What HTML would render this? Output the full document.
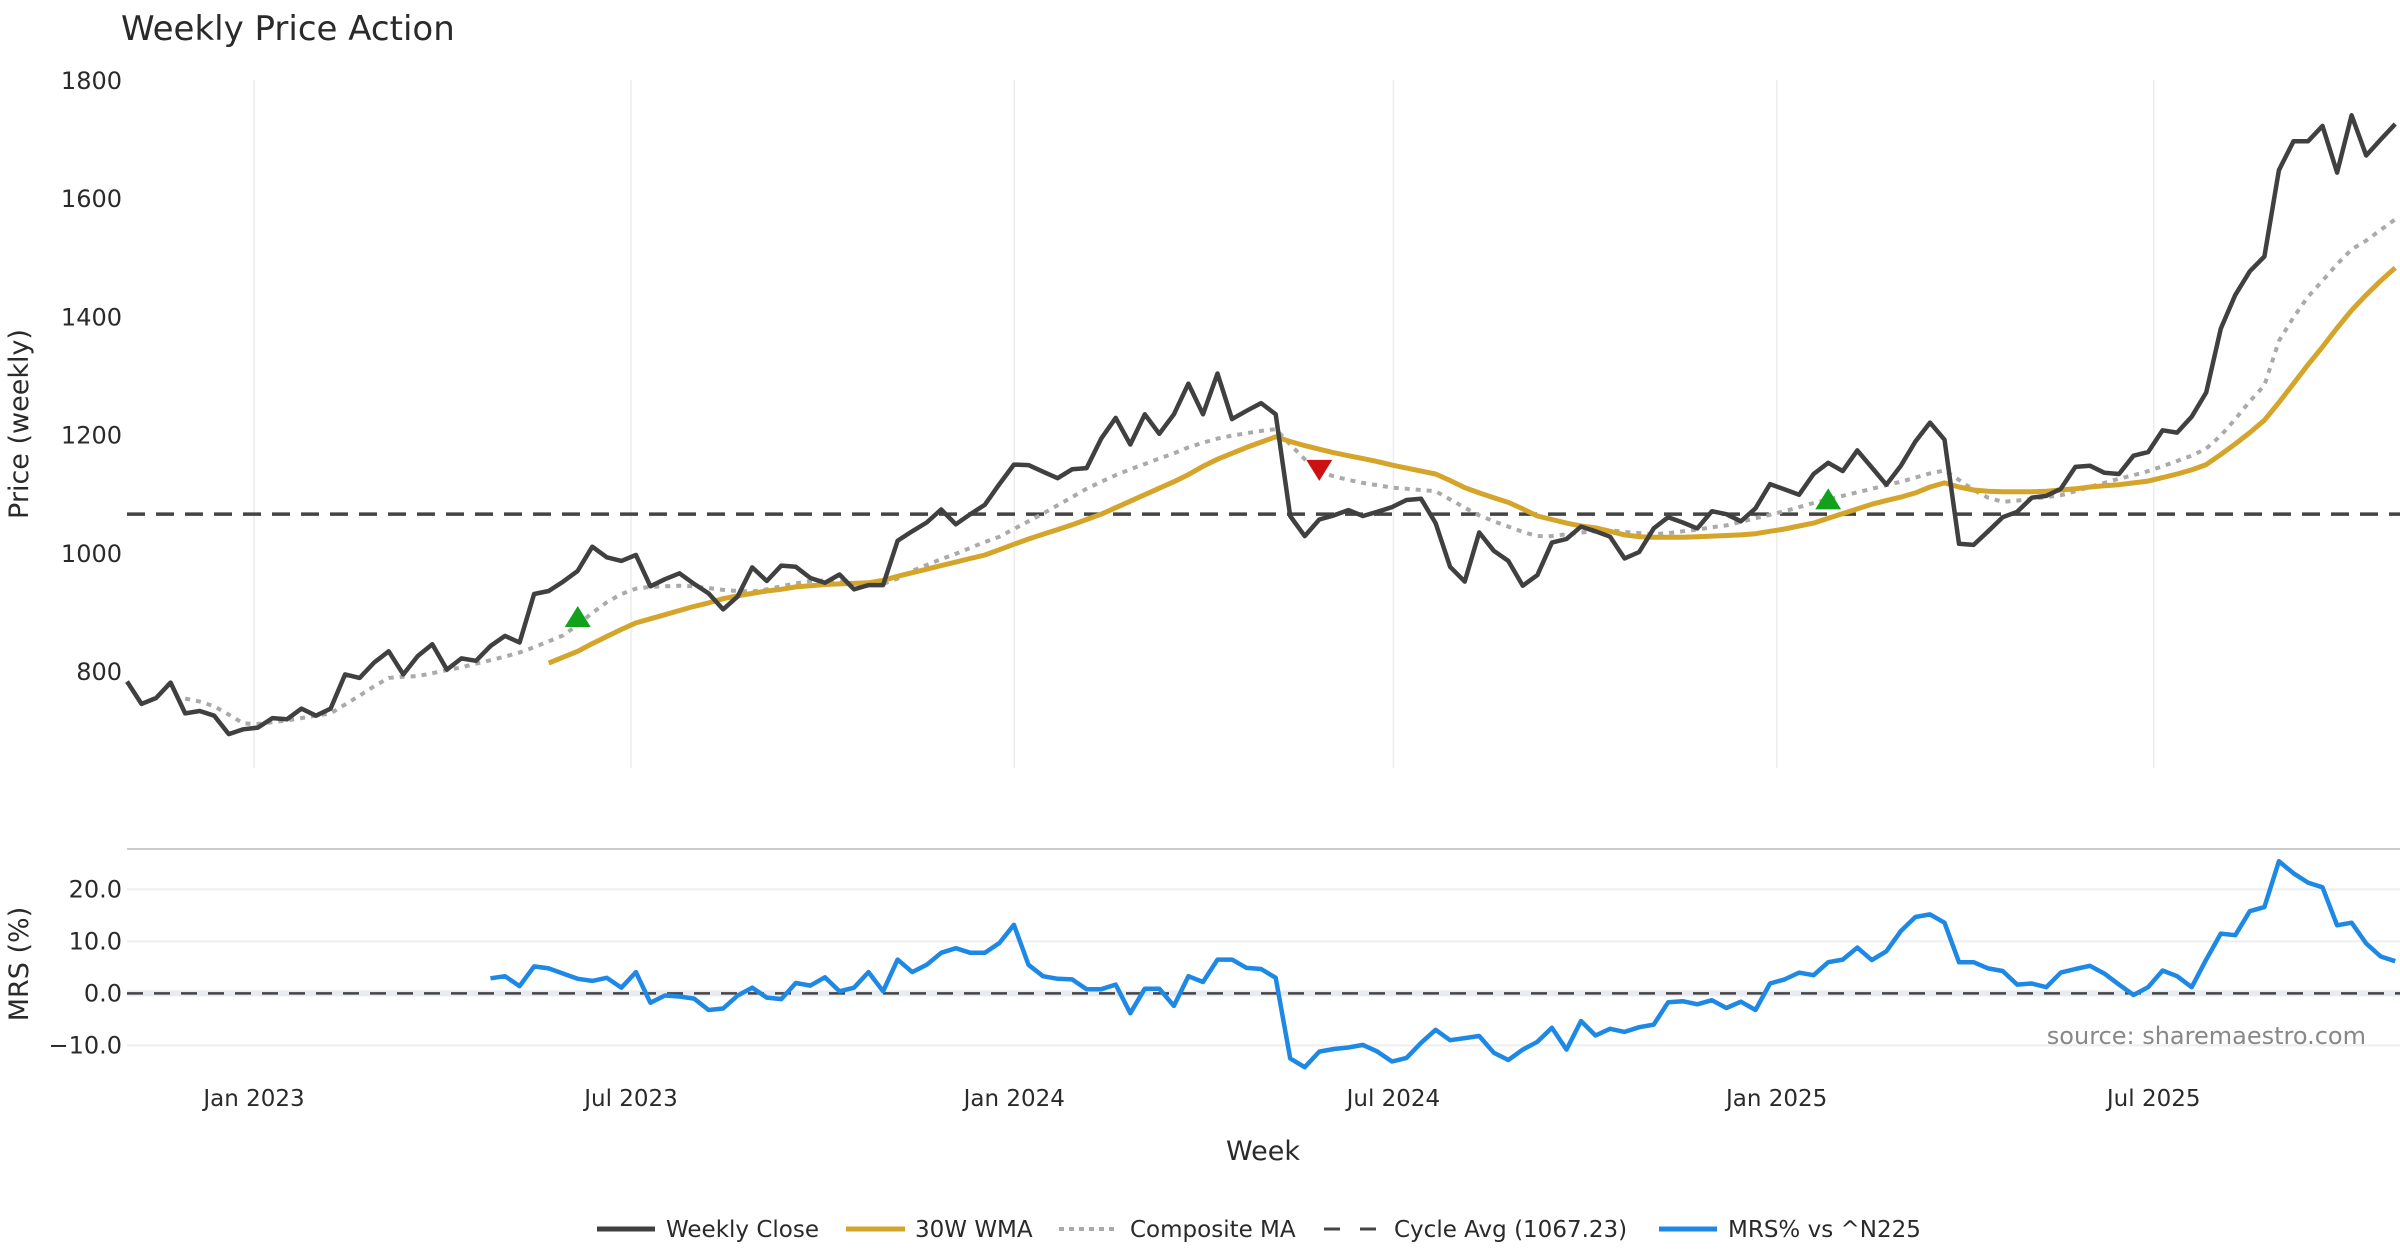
<!DOCTYPE html>
<html><head><meta charset="utf-8"><style>
html,body{margin:0;padding:0;background:#fff;}
svg{display:block;font-family:"DejaVu Sans","Liberation Sans",sans-serif;}
</style></head><body>
<svg id="chart" width="2400" height="1260" viewBox="0 0 2400 1260" xmlns="http://www.w3.org/2000/svg">
<text x="121" y="40" font-size="34" fill="#2a2a2a">Weekly Price Action</text>
<g id="grid"></g>
<g id="mrsgrid"></g>
<line x1="127" y1="849" x2="2400" y2="849" stroke="#cccccc" stroke-width="2"/>
<g id="series"></g>
<g id="axes"></g>
<text transform="translate(28,424) rotate(-90)" text-anchor="middle" font-size="27" fill="#2a2a2a">Price (weekly)</text>
<text transform="translate(28,964) rotate(-90)" text-anchor="middle" font-size="27" fill="#2a2a2a">MRS (%)</text>
<text x="1263" y="1160" text-anchor="middle" font-size="27" fill="#2a2a2a">Week</text>
<text x="2366" y="1044" text-anchor="end" font-size="24" fill="#888888">source: sharemaestro.com</text>
<g id="legend" font-size="23" fill="#2a2a2a">
 <g><line x1="597" y1="1229" x2="655" y2="1229" stroke="#404040" stroke-width="5"/><text x="666" y="1237">Weekly Close</text></g>
 <g><line x1="846" y1="1229" x2="905" y2="1229" stroke="#d4a52a" stroke-width="5"/><text x="915" y="1237">30W WMA</text></g>
 <g><line x1="1059" y1="1229" x2="1117" y2="1229" stroke="#aaaaaa" stroke-width="4" stroke-dasharray="5,5"/><text x="1130" y="1237">Composite MA</text></g>
 <g><line x1="1324" y1="1229" x2="1381" y2="1229" stroke="#444444" stroke-width="3" stroke-dasharray="16,20"/><text x="1394" y="1237">Cycle Avg (1067.23)</text></g>
 <g><line x1="1659" y1="1229" x2="1717" y2="1229" stroke="#1e88e5" stroke-width="5"/><text x="1728" y="1237">MRS% vs ^N225</text></g>
</g>
</svg>
<script>
const closeVals=[784,746,756,782,730,734,726,695,703,706,722,720,738,726,738,796,790,816,835,796,827,847,804,823,819,844,861,850,932,937,953,971,1012,994,988,998,945,957,967,949,933,906,928,977,954,980,978,959,951,965,940,947,947,1022,
1038,1053,1075,1050,1067,1083,1118,1151,1150,1139,1128,1143,1145,1195,1230,1185,1236,1203,1236,1288,1236,1305,1228,1242,1255,1236,1064,1030,1058,1065,1074,1064,1071,1079,1091,1093,1052,978,953,1036,1005,988,946,964,1019,1025,1046,1038,1029,992,1003,
1043,1062,1053,1043,1072,1067,1055,1077,1118,1109,1100,1135,1154,1140,1175,1146,1117,1149,1190,1222,1193,1017,1015,1038,1062,1071,1095,1098,1110,1147,1149,1137,1135,1166,1172,1209,1205,1232,1273,1381,1438,1478,1503,1649,1698,1698,1724,1645,1742,1674,1701,1727];
const wmaStart=29;
const wmaVals=[815,825,835,848,860,872,883,890,897,904,911,917,924,929,933,937,940,944,946,948,949,950,951,955,962,968,974,980,986,992,998,1007,1016,1025,1033,1041,1049,1058,1067,1078,1089,1100,1111,1122,1134,1148,1160,1170,1180,1189,1198,1190,1183,1177,1171,1166,1161,1156,1150,1145,1140,1135,1124,1112,1103,1095,1087,1076,1064,1058,1052,1047,1044,1038,1032,1029,1028,1028,1028,1029,1030,1031,1032,1034,1038,1042,1047,1052,1060,1068,1076,1084,1090,1096,1103,1113,1120,1113,1108,1106,1105,1105,1105,1106,1108,1110,1113,1115,1117,1120,1123,1129,1135,1142,1151,1168,1186,1205,1226,1256,1288,1320,1350,1382,1412,1438,1462,1484];
const compStart=4;
const compVals=[755,750,742,728,713,712,715,718,722,726,730,745,760,776,790,792,793,798,803,808,814,820,826,833,842,852,862,880,900,918,932,941,944,945,946,945,942,939,937,936,940,945,950,954,955,953,950,948,949,958,971,981,991,1000,1010,1020,1029,1042,1055,1068,1082,1096,1110,1122,1133,1143,1152,1161,1170,1180,1188,1195,1200,1204,1208,1211,1185,1160,1140,1131,1125,1120,1116,1112,1110,1108,1106,1092,1078,1065,1055,1046,1037,1030,1030,1033,1036,1038,1040,1037,1035,1033,1035,1038,1041,1045,1048,1054,1060,1066,1072,1079,1086,1092,1098,1104,1110,1116,1122,1129,1136,1141,1125,1108,1095,1088,1090,1093,1096,1099,1106,1113,1120,1127,1133,1140,1148,1157,1166,1178,1200,1228,1258,1285,1360,1400,1435,1462,1490,1515,1530,1548,1566];
const mrsStart=25;
const mrsVals=[2.9,3.3,1.4,5.2,4.8,3.8,2.8,2.4,3.0,1.1,4.1,-1.8,-0.4,-0.6,-1.0,-3.2,-2.9,-0.4,1.1,-0.8,-1.1,2.0,1.5,3.1,0.4,1.1,4.1,0.4,6.5,4.1,5.5,7.8,8.7,7.8,7.8,9.7,13.2,5.5,3.3,2.8,2.7,0.8,0.8,1.7,-3.8,0.9,0.9,-2.4,3.3,2.2,6.5,6.5,4.9,4.7,3.0,-12.5,-14.2,-11.2,-10.7,-10.4,-9.9,-11.2,-13.1,-12.4,-9.5,-7.0,-9.0,-8.6,-8.2,-11.4,-12.8,-10.8,-9.3,-6.6,-10.8,-5.3,-8.1,-6.8,-7.4,-6.5,-6.0,-1.7,-1.5,-2.1,-1.3,-2.8,-1.6,-3.2,1.9,2.7,4.0,3.5,6.0,6.5,8.8,6.4,8.1,12.0,14.7,15.2,13.6,6.0,6.0,4.8,4.3,1.7,1.9,1.2,4.0,4.7,5.3,3.8,1.7,-0.3,1.2,4.4,3.3,1.2,6.5,11.5,11.2,15.8,16.6,25.4,23.1,21.3,20.4,13.1,13.6,9.6,7.1,6.2];
const cycleAvg=1067.23;
const signalIdx=[31,82,117];
const signalVal=[893,1142,1092];
const signalType=["buy","sell","buy"];
const priceTicks=[800,1000,1200,1400,1600,1800];
const mrsTicks=[-10,0,10,20];
const mrsTickLabels=["\u221210.0","0.0","10.0","20.0"];
const dateTicks=["2023-01-01","2023-07-01","2024-01-01","2024-07-01","2025-01-01","2025-07-01"];
const dateTickLabels=["Jan 2023","Jul 2023","Jan 2024","Jul 2024","Jan 2025","Jul 2025"];
const dateOrigin="2023-01-01";

const NS="http://www.w3.org/2000/svg";
const X0=127, DX=14.54;
function xi(i){return X0+DX*i;}
function xDate(s){const d=(new Date(s)-new Date(dateOrigin))/86400000;return 254+d*2.083;}
function yP(v){return 672-(v-800)*0.591;}
function yM(v){return 993.4-v*5.2;}
function el(tag,attrs,parent){const e=document.createElementNS(NS,tag);for(const k in attrs)e.setAttribute(k,attrs[k]);parent.appendChild(e);return e;}
const grid=document.getElementById('grid'), mg=document.getElementById('mrsgrid'), ser=document.getElementById('series'), ax=document.getElementById('axes');

dateTicks.forEach((d,k)=>{
  const x=xDate(d);
  const g=el('line',{x1:x,y1:80,x2:x,y2:768,stroke:'#ececec','stroke-width':1.5},grid);
  
  
  const t=el('text',{x:x,y:1106,'text-anchor':'middle','font-size':23,fill:'#2a2a2a'},ax);
  t.textContent=dateTickLabels[k];
  
  
});
priceTicks.forEach(v=>{
  const t=el('text',{x:122,y:yP(v)+8,'text-anchor':'end','font-size':24,fill:'#2a2a2a'},ax);
  t.textContent=String(v);
  
  
});
mrsTicks.forEach((v,k)=>{
  const l=el('line',{x1:127,y1:yM(v),x2:2400,y2:yM(v),stroke:v===0?'#e8ebf2':'#eeeeee','stroke-width':v===0?6:2},mg);
  
  
  const t=el('text',{x:122,y:yM(v)+8,'text-anchor':'end','font-size':24,fill:'#2a2a2a'},ax);
  t.textContent=mrsTickLabels[k];
  
  
});
function pathFrom(vals,start,yf){return vals.map((v,k)=>(k?'L':'M')+xi(start+k).toFixed(1)+','+yf(v).toFixed(1)).join(' ');}

const ca=el('line',{x1:127,y1:yP(cycleAvg),x2:2400,y2:yP(cycleAvg),stroke:'#444','stroke-width':3.5,'stroke-dasharray':'18,11'},ser);


const z=el('line',{x1:127,y1:yM(0),x2:2400,y2:yM(0),stroke:'#444','stroke-width':2.5,'stroke-dasharray':'16,11'},ser);



const cp=el('path',{d:pathFrom(compVals,compStart,yP),fill:'none',stroke:'#aaaaaa','stroke-width':4,'stroke-dasharray':'5,6'},ser);


const wp=el('path',{d:pathFrom(wmaVals,wmaStart,yP),fill:'none',stroke:'#d4a52a','stroke-width':5,'stroke-linejoin':'round'},ser);


const clp=el('path',{d:pathFrom(closeVals,0,yP),fill:'none',stroke:'#404040','stroke-width':4.5,'stroke-linejoin':'round'},ser);


const mp=el('path',{d:pathFrom(mrsVals,mrsStart,yM),fill:'none',stroke:'#1e88e5','stroke-width':4.5,'stroke-linejoin':'round'},ser);



signalIdx.forEach((i,k)=>{
  const x=xi(i), y=yP(signalVal[k]);
  let pts, col;
  if(signalType[k]==='buy'){pts=`${x-13},${y+10} ${x+13},${y+10} ${x},${y-11}`;col='#11a11a';}
  else{pts=`${x-13},${y-10} ${x+13},${y-10} ${x},${y+11}`;col='#cc1111';}
  const m=el('polygon',{points:pts,fill:col},ser);
  
  
});
</script>
</body></html>
